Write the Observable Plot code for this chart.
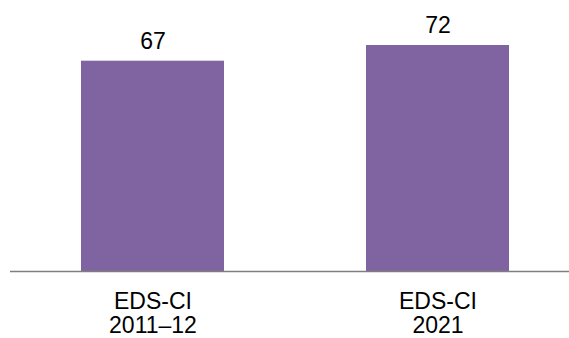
<!DOCTYPE html>
<html>
<head>
<meta charset="utf-8">
<script src="https://cdn.jsdelivr.net/npm/d3@7"></script>
<script src="https://cdn.jsdelivr.net/npm/@observablehq/plot@0.6"></script>
<style>
  html, body { margin: 0; padding: 0; background: #fff; }
  svg { display: block; }
</style>
</head>
<body>
<div id="chart"></div>
<script>
const categories = ["EDS-CI\n2011–12", "EDS-CI\n2021"];
const values = [67, 72];
const data = categories.map((c, i) => ({ cat: c, value: values[i] }));

const chart = Plot.plot({
  width: 569,
  height: 338,
  marginTop: 45,
  marginBottom: 67,
  marginLeft: 10,
  marginRight: 0,
  style: { fontFamily: "'Liberation Sans', Arial, sans-serif", background: "#fff" },
  x: { domain: categories, range: [24, 566], paddingInner: 0.5, paddingOuter: 0.2, label: null },
  y: { domain: [0, 72], axis: null },
  marks: [
    Plot.barY(data, { x: "cat", y: "value", fill: "#8064a2" }),
    Plot.ruleY([0], { stroke: "#7f7f7f", strokeWidth: 1.5 }),
    Plot.text(data, { x: "cat", y: "value", text: d => String(d.value), dy: -20, fontSize: 23, fill: "#000" }),
    Plot.axisX({ tickSize: 0, tickPadding: 0, dy: 21, fontSize: 23, lineHeight: 1.04, fill: "#000", label: null, textAnchor: "middle" })
  ]
});
document.getElementById("chart").appendChild(chart);
</script>
</body>
</html>
